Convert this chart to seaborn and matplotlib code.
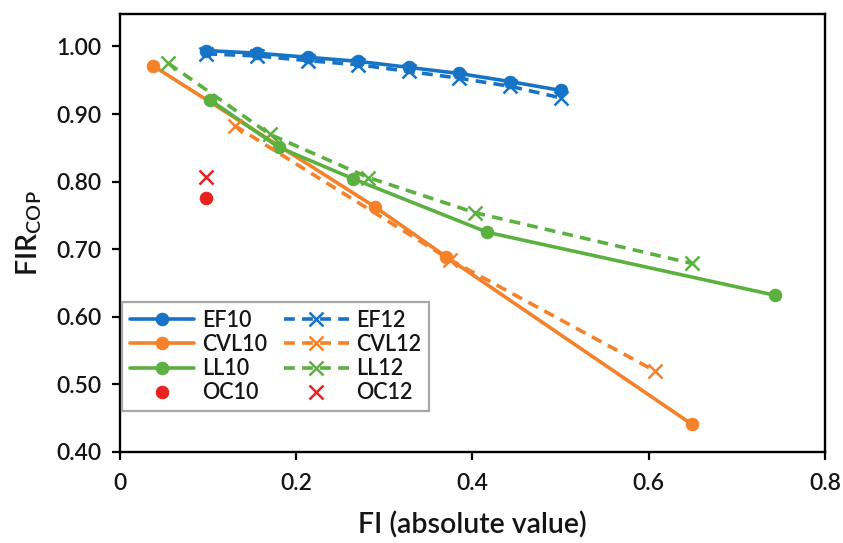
import matplotlib
matplotlib.use("Agg")
import matplotlib.pyplot as plt
import seaborn as sns

ef10_x = [0.098, 0.156, 0.213, 0.270, 0.328, 0.385, 0.443, 0.500]
ef10_y = [0.994, 0.990, 0.984, 0.978, 0.969, 0.960, 0.948, 0.935]
ef12_x = [0.098, 0.156, 0.213, 0.270, 0.328, 0.385, 0.443, 0.500]
ef12_y = [0.989, 0.986, 0.979, 0.973, 0.963, 0.953, 0.941, 0.924]
cvl10_x = [0.038, 0.289, 0.370, 0.649]
cvl10_y = [0.971, 0.763, 0.689, 0.441]
cvl12_x = [0.130, 0.375, 0.607]
cvl12_y = [0.883, 0.684, 0.520]
ll10_x = [0.102, 0.180, 0.265, 0.417, 0.743]
ll10_y = [0.921, 0.851, 0.804, 0.725, 0.632]
ll12_x = [0.055, 0.170, 0.282, 0.403, 0.649]
ll12_y = [0.975, 0.870, 0.806, 0.754, 0.679]
oc10_x = [0.098]
oc10_y = [0.776]
oc12_x = [0.098]
oc12_y = [0.807]

BLUE = "#1673C6"
ORANGE = "#F5822A"
GREEN = "#5BB040"
RED = "#E8221E"

sns.set_theme(style="white")
plt.rcParams["font.family"] = ["Lato", "DejaVu Sans"]

fig = plt.figure(figsize=(8.43, 5.43), dpi=100)
ax = fig.add_axes([0.1423, 0.1676, 0.8363, 0.8066])

lw = 2.6
dash = (3.0, 2.0)

series = [
    (ef10_x, ef10_y, BLUE, "o", lw, "EF10"),
    (cvl10_x, cvl10_y, ORANGE, "o", lw, "CVL10"),
    (ll10_x, ll10_y, GREEN, "o", lw, "LL10"),
    (oc10_x, oc10_y, RED, "o", 0, "OC10"),
    (ef12_x, ef12_y, BLUE, "x", lw, "EF12"),
    (cvl12_x, cvl12_y, ORANGE, "x", lw, "CVL12"),
    (ll12_x, ll12_y, GREEN, "x", lw, "LL12"),
    (oc12_x, oc12_y, RED, "x", 0, "OC12"),
]
for xs, ys, col, mk, w, lab in series:
    if mk == "o":
        sns.lineplot(x=xs, y=ys, ax=ax, color=col, linewidth=w, marker="o",
                     markersize=9, markeredgecolor=col, markerfacecolor=col,
                     label=lab, sort=False)
    else:
        sns.lineplot(x=xs, y=ys, ax=ax, color=col, linewidth=w, marker="x",
                     markersize=9.5, markeredgewidth=1.8, markeredgecolor=col,
                     label=lab, sort=False)

for line in ax.lines:
    if line.get_marker() == "x" and line.get_linewidth() > 0:
        line.set_dashes(dash)

ax.set_xlim(0, 0.8)
ax.set_ylim(0.40, 1.048)
ax.set_xticks([0, 0.2, 0.4, 0.6, 0.8])
ax.set_xticklabels(["0", "0.2", "0.4", "0.6", "0.8"])
yt = [0.4, 0.5, 0.6, 0.7, 0.8, 0.9, 1.0]
ax.set_yticks(yt)
ax.set_yticklabels([f"{v:.2f}" for v in yt])
ax.tick_params(axis="both", which="major", direction="out", length=6, width=1.6,
               labelsize=16.5, colors="black", bottom=True, left=True)
for t in ax.get_xticklabels() + ax.get_yticklabels():
    t.set_fontweight("semibold")
    t.set_color("#151515")
ax.tick_params(axis="x", pad=9)
ax.tick_params(axis="y", pad=7)
for s in ax.spines.values():
    s.set_color("black")
    s.set_linewidth(1.7)

ax.set_xlabel("FI (absolute value)", fontsize=20.5, labelpad=13, color="#151515",
              fontweight="semibold")
ax.set_ylabel(r"FIR$_{\mathregular{COP}}$", fontsize=20.5, labelpad=9, color="#151515",
              fontweight="semibold")

handles, labels = ax.get_legend_handles_labels()
leg = ax.legend(handles, labels, ncol=2, loc="lower left",
                bbox_to_anchor=(0.003, 0.094), frameon=True,
                prop={"size": 15.5, "weight": "semibold"},
                fancybox=False, edgecolor="#A8A8A8", framealpha=1,
                handlelength=3.0, handletextpad=0.35, columnspacing=0.8,
                labelspacing=0.15, borderpad=0.35, borderaxespad=0)
leg.get_frame().set_linewidth(1.6)
for t in leg.get_texts():
    t.set_color("#151515")

fig.savefig("out.png", dpi=100)
